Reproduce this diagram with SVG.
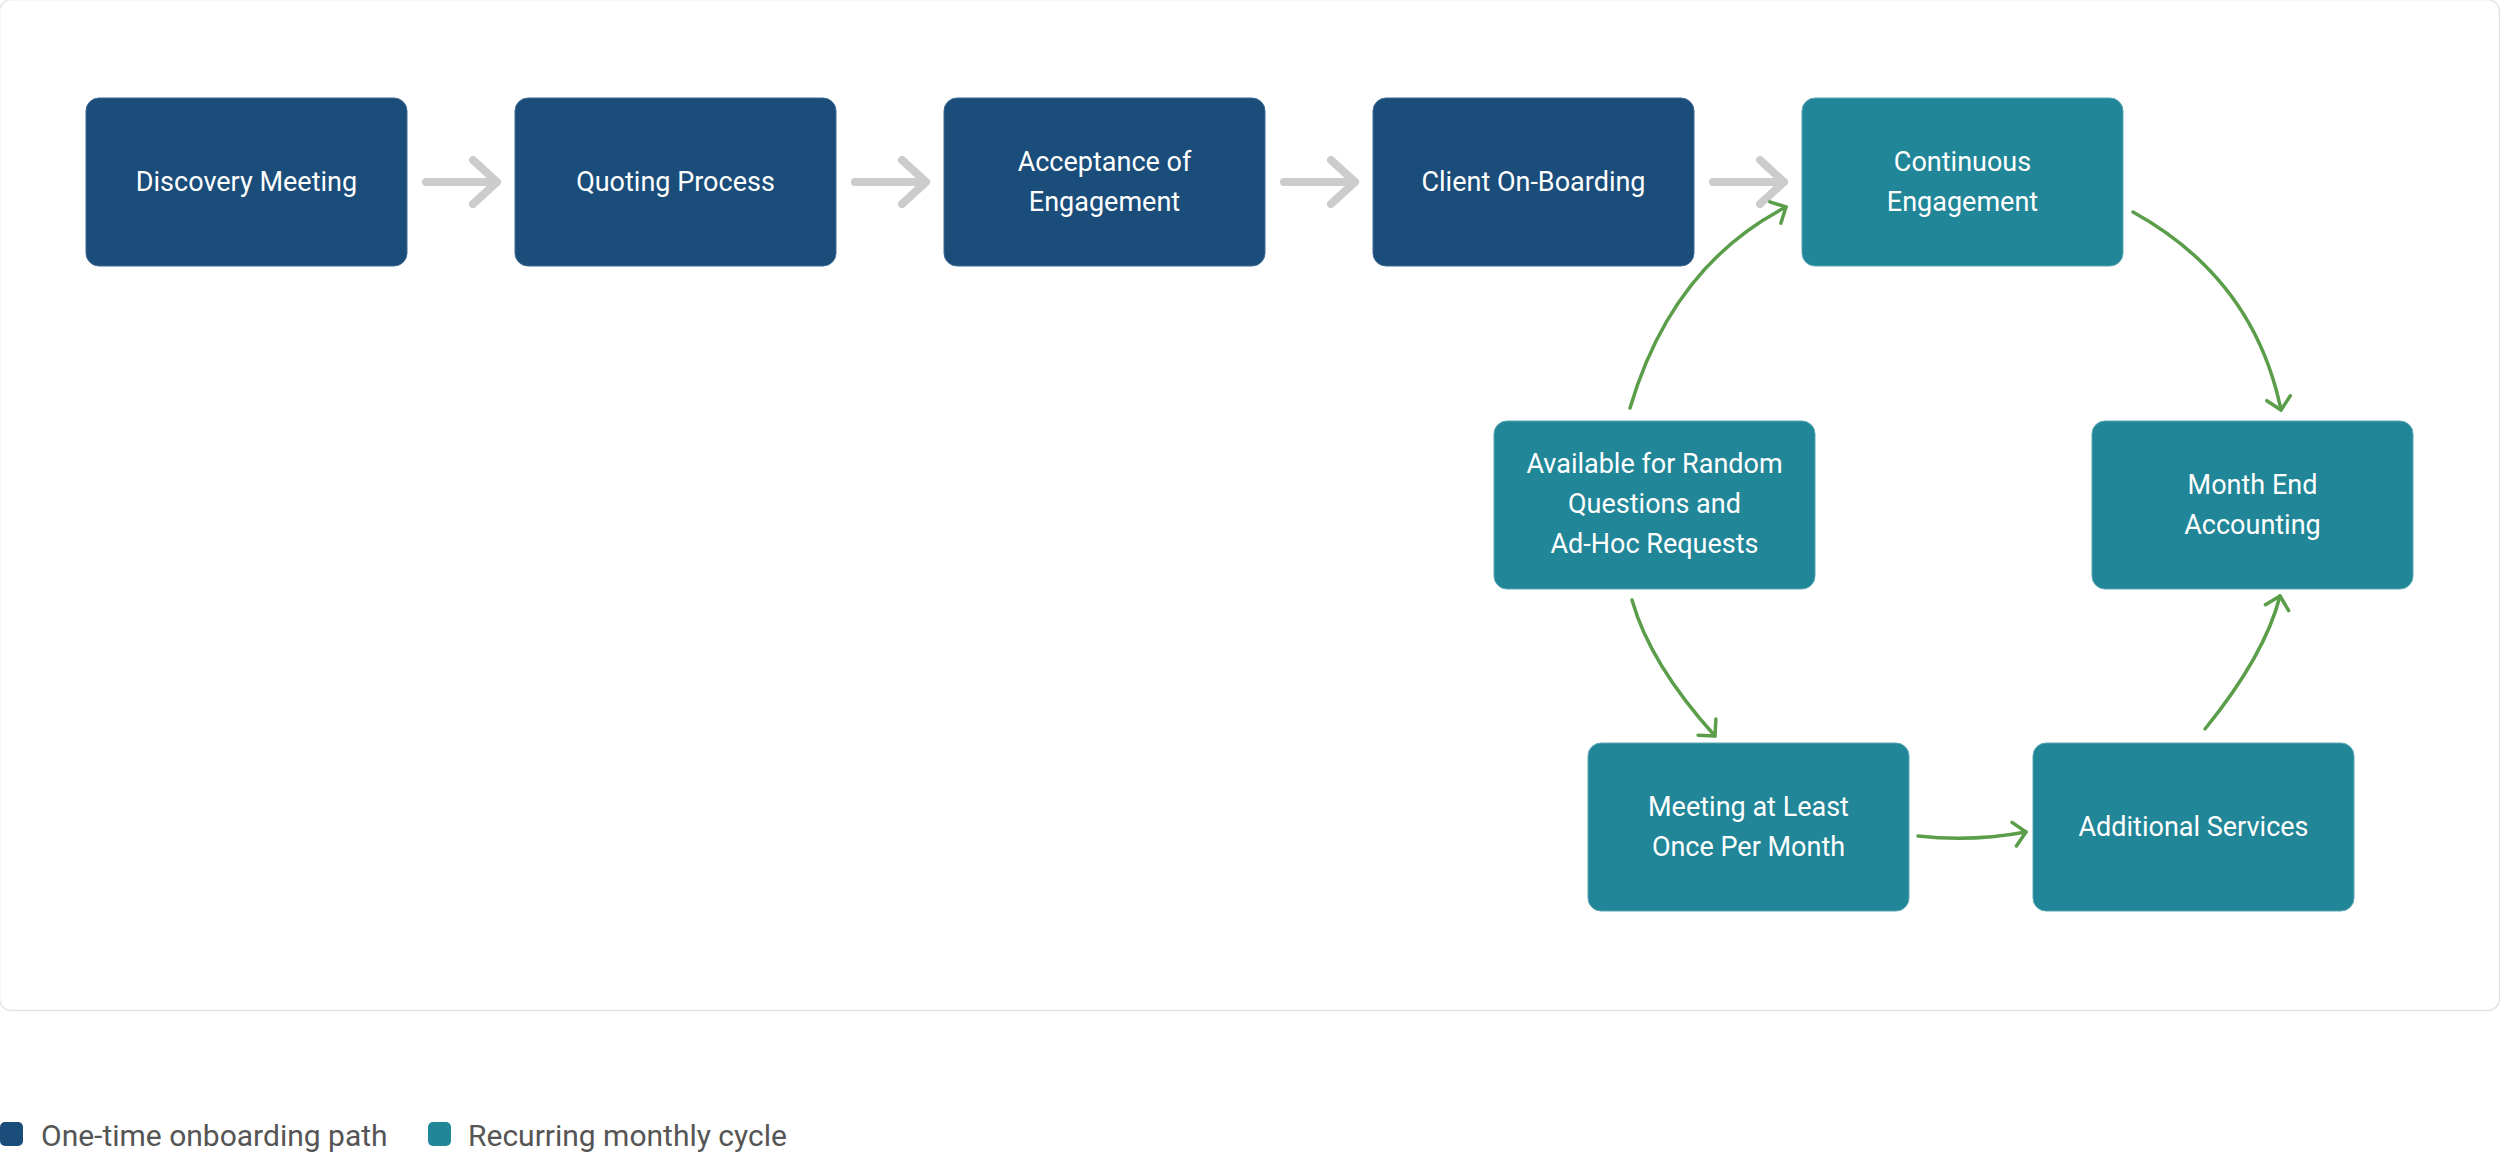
<svg xmlns="http://www.w3.org/2000/svg" width="2500" height="1157" viewBox="0 0 2500 1157">
<style>
  .node-dark { fill: #1b4d7a; stroke: #3d6a92; stroke-width: 1; }
  .node-teal { fill: #218698; stroke: #5aa6b4; stroke-width: 1; }
  .lbl { font-family: Roboto, "Liberation Sans", sans-serif; font-size: 27px; fill: #ffffff; text-anchor: middle; }
  .gray { stroke: #cccccc; stroke-width: 8; fill: none; stroke-linecap: round; stroke-linejoin: round; }
  .green { stroke: #5b9e4a; stroke-width: 3.5; fill: none; stroke-linecap: round; }
  .legend { font-family: Roboto, "Liberation Sans", sans-serif; font-size: 30px; fill: #555555; }
</style>
<defs>
  <marker id="ah" markerUnits="userSpaceOnUse" markerWidth="30" markerHeight="30" refX="0" refY="0" viewBox="-16 -15 20 30" orient="auto" overflow="visible">
    <path d="M -12 -12 L 0 0 L -12 12" fill="none" stroke="#5b9e4a" stroke-width="3.5" stroke-linecap="round" stroke-linejoin="round"/>
  </marker>
</defs>
<rect x="-0.5" y="-0.5" width="2500" height="1011" rx="12" fill="#ffffff" stroke="#e3e3e3" stroke-width="1.5"/>

<g id="connectors">
  <g id="gray-arrows">
    <path class="gray" d="M426 182 H497 M473 160 L497 182 L473 204"/>
    <path class="gray" d="M855 182 H926 M902 160 L926 182 L902 204"/>
    <path class="gray" d="M1284 182 H1355 M1331 160 L1355 182 L1331 204"/>
    <path class="gray" d="M1713 182 H1784 M1760 160 L1784 182 L1760 204"/>
  </g>
  <g id="green-arrows">
    <path class="green" marker-end="url(#ah)" d="M1630 408 Q1672 266 1786 207"/>
    <path class="green" marker-end="url(#ah)" d="M2133 212 Q2254 279 2281 410"/>
    <path class="green" marker-end="url(#ah)" d="M1632 600 Q1650 664 1715 736"/>
    <path class="green" marker-end="url(#ah)" d="M1918 836 Q1972 842 2026 832"/>
    <path class="green" marker-end="url(#ah)" d="M2205 729 Q2265 655 2280 596"/>
  </g>
</g>

<g id="node-discovery">
  <rect class="node-dark" x="86" y="98" width="321" height="168" rx="13"/>
  <text class="lbl" x="246.5" y="191">Discovery Meeting</text>
</g>
<g id="node-quoting">
  <rect class="node-dark" x="515" y="98" width="321" height="168" rx="13"/>
  <text class="lbl" x="675.5" y="191">Quoting Process</text>
</g>
<g id="node-acceptance">
  <rect class="node-dark" x="944" y="98" width="321" height="168" rx="13"/>
  <text class="lbl" x="1104.5" y="171">Acceptance of</text>
  <text class="lbl" x="1104.5" y="211">Engagement</text>
</g>
<g id="node-onboarding">
  <rect class="node-dark" x="1373" y="98" width="321" height="168" rx="13"/>
  <text class="lbl" x="1533.5" y="191">Client On-Boarding</text>
</g>
<g id="node-continuous">
  <rect class="node-teal" x="1802" y="98" width="321" height="168" rx="13"/>
  <text class="lbl" x="1962.5" y="171">Continuous</text>
  <text class="lbl" x="1962.5" y="211">Engagement</text>
</g>
<g id="node-available">
  <rect class="node-teal" x="1494" y="421" width="321" height="168" rx="13"/>
  <text class="lbl" x="1654.5" y="473">Available for Random</text>
  <text class="lbl" x="1654.5" y="513">Questions and</text>
  <text class="lbl" x="1654.5" y="553">Ad-Hoc Requests</text>
</g>
<g id="node-monthend">
  <rect class="node-teal" x="2092" y="421" width="321" height="168" rx="13"/>
  <text class="lbl" x="2252.5" y="494">Month End</text>
  <text class="lbl" x="2252.5" y="534">Accounting</text>
</g>
<g id="node-meeting">
  <rect class="node-teal" x="1588" y="743" width="321" height="168" rx="13"/>
  <text class="lbl" x="1748.5" y="816">Meeting at Least</text>
  <text class="lbl" x="1748.5" y="856">Once Per Month</text>
</g>
<g id="node-additional">
  <rect class="node-teal" x="2033" y="743" width="321" height="168" rx="13"/>
  <text class="lbl" x="2193.5" y="836">Additional Services</text>
</g>

<g id="legend">
  <rect x="0" y="1122" width="23" height="24" rx="5" fill="#1b4d7a"/>
  <text class="legend" x="41" y="1146">One-time onboarding path</text>
  <rect x="428" y="1122" width="23" height="24" rx="5" fill="#218698"/>
  <text class="legend" x="468" y="1146">Recurring monthly cycle</text>
</g>
</svg>
